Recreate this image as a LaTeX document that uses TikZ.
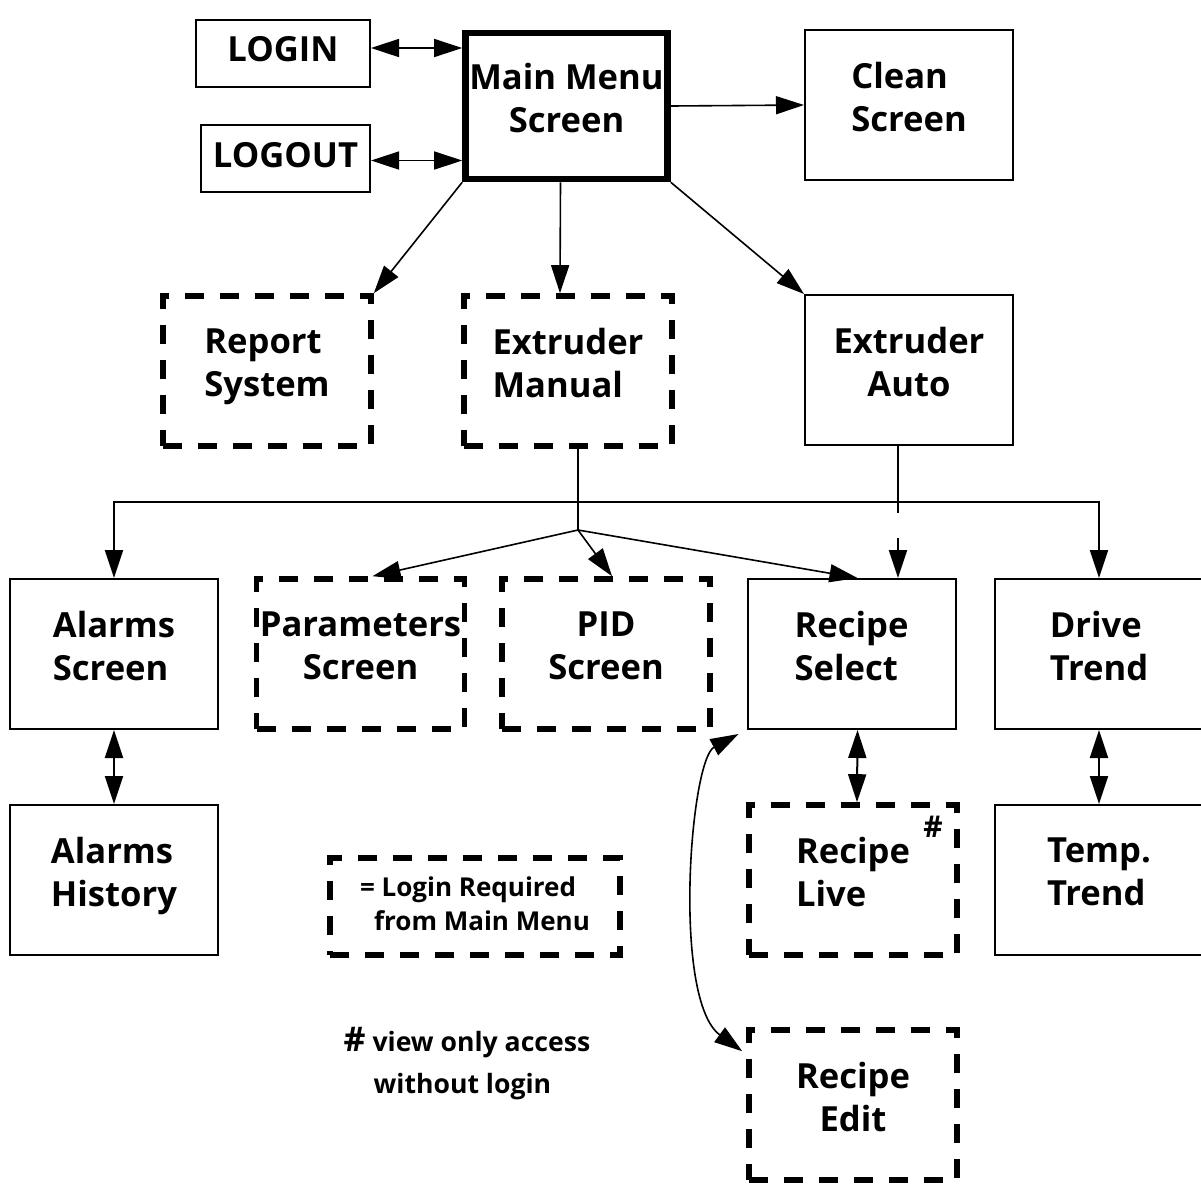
\documentclass[tikz,border=0pt]{standalone}
\usepackage{fontspec}
\setmainfont{Open Sans}
\usetikzlibrary{arrows.meta,positioning}

\begin{document}
\begin{tikzpicture}[x=0.5pt,y=-0.5pt,every node/.style={font=\fontsize{17.3}{21.5}\selectfont\bfseries}]
    \tikzset{box/.style={draw,line width=1pt,minimum width=104pt,minimum height=75pt,
      align=center,text depth=8pt,inner sep=0pt},
      lock/.style={box,line width=2.8pt,dash pattern=on 9.5pt off 8pt},
      tip/.style={-{Triangle[length=14pt,width=9pt]},line width=0.8pt},
      both/.style={{Triangle[length=14pt,width=9pt]}-{Triangle[length=14pt,width=9pt]},line width=0.8pt}}
    \useasboundingbox (0,0) rectangle (1201,1185);
    % top: login, main menu, clean
    \node[box,minimum width=87pt,minimum height=33.5pt,text depth=4pt] (login) at (283,53) {LOGIN};
    \node[box,minimum width=84.5pt,minimum height=33.5pt,text depth=4pt] (logout) at (285.5,158.5) {LOGOUT};
    \node[box,line width=3.3pt,minimum width=101pt,minimum height=73pt] (menu) at (566.5,106) {Main Menu\\Screen};
    \node[box,align=left] (clean) at (909,105) {Clean\\Screen};
    % second row
    \node[lock,align=left] (report) at (267,371) {Report\\System};
    \node[lock,align=left] (manual) at (568,371) {Extruder\\Manual};
    \node[box] (auto) at (909,370) {Extruder\\Auto};
    % third row
    \node[box,align=left] (alarms) at (114,654) {Alarms\\Screen};
    \node[lock] (params) at (360.5,654) {Parameters\\Screen};
    \node[lock] (pid) at (606,654) {PID\\Screen};
    \node[box,align=left] (select) at (851.5,654) {Recipe\\Select};
    \node[box,align=left] (drive) at (1099,654) {Drive\\Trend};
    % bottom rows
    \node[box,align=left] (history) at (114,880) {Alarms\\History};
    \node[lock,align=left] (live) at (853,880) {Recipe\\Live};
    \node[font=\fontsize{15}{18}\selectfont\bfseries] (hash) at (933,827) {\#};
    \node[box,align=left] (ttrend) at (1099,880) {Temp.\\Trend};
    \node[lock] (edit) at (853,1105) {Recipe\\Edit};
    % key
    \node[lock,minimum width=145pt,minimum height=48.5pt,align=left,text depth=3pt,
      font=\fontsize{13}{17}\selectfont\bfseries] (key) at (475,906.5)
      {= Login Required\\\hspace*{7pt}from Main Menu};
    \node[align=left,font=\fontsize{13.3}{21}\selectfont\bfseries] (note) at (467,1064)
      {{\fontsize{17}{21}\selectfont\#} view only access\\\hspace*{15pt}without login};

    \draw[both] ([yshift=2.5pt]login.east) -- ([yshift=2.5pt]login.east -| menu.west);
    \draw[both] ([yshift=-1pt]logout.east) -- ([yshift=-1pt]logout.east -| menu.west);
    \draw[tip] (menu.east) -- (clean.west);
    \draw[tip] (menu.south west) -- (report.north east);
    \draw[tip] ([xshift=-3pt]menu.south) -- ([xshift=-4pt]manual.north);
    \draw[tip] (menu.south east) -- (auto.north west);

    % fan out from the manual screen
    \coordinate (split) at (578,502);
    \coordinate (fork) at (578,530);
    \draw[line width=1pt] ([xshift=5pt]manual.south) -- (split) -- (fork);
    \draw[tip,line width=1pt] (split) -| (alarms.north);
    \draw[tip,line width=1pt] (split) -| (drive.north);
    \foreach \n/\dx in {params/6pt,pid/3pt,select/3pt}{\draw[tip] (fork) -- ([xshift=\dx]\n.north);}
    \draw[tip,line width=1pt,dash pattern=on 33.5pt off 12.5pt on 100pt]
      ([xshift=-5.5pt]auto.south) -- ([xshift=-5.5pt]auto.south |- select.north);

    \foreach \a/\b in {alarms/history,drive/ttrend}{\draw[both,line width=1pt] (\a) -- (\b);}
    \draw[both,line width=1pt] ([xshift=3pt]select.south) -- ([xshift=2pt]live.north);
    \draw[both] ([shift={(-4pt,-2pt)}]select.south west) .. controls (690,760) and (672,1000)
      .. ([shift={(-2pt,-12pt)}]edit.north west);
  \end{tikzpicture}
\end{document}
